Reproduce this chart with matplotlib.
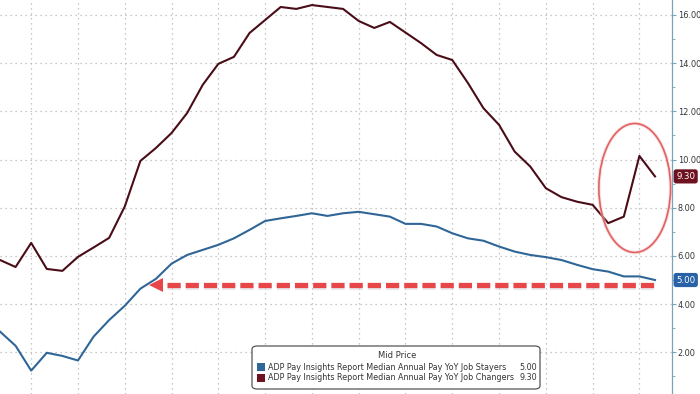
import numpy as np
import pandas as pd
import matplotlib
matplotlib.use("Agg")
import matplotlib.pyplot as plt
from matplotlib.patches import Ellipse, FancyBboxPatch, Rectangle

# -----------------------------
# Data, monthly Oct 2020 - Apr 2024
# -----------------------------
months = pd.date_range("2020-10-01", periods=43, freq="MS")

job_stayers = [
    2.86, 2.27, 1.24, 1.98, 1.85, 1.66, 2.65, 3.34, 3.93, 4.64,
    5.05, 5.68, 6.04, 6.25, 6.46, 6.73, 7.08, 7.45, 7.56, 7.66,
    7.77, 7.66, 7.77, 7.83, 7.73, 7.63, 7.33, 7.33, 7.22, 6.94,
    6.73, 6.63, 6.39, 6.18, 6.04, 5.95, 5.83, 5.63, 5.45, 5.35,
    5.15, 5.15, 5.00,
]

job_changers = [
    5.83, 5.54, 6.54, 5.46, 5.38, 5.96, 6.35, 6.75, 8.05, 9.94,
    10.48, 11.10, 11.93, 13.10, 13.97, 14.26, 15.25, 15.79, 16.33, 16.25,
    16.41, 16.33, 16.25, 15.75, 15.46, 15.71, 15.27, 14.83, 14.34, 14.13,
    13.18, 12.13, 11.44, 10.33, 9.71, 8.81, 8.44, 8.25, 8.12, 7.36,
    7.63, 10.15, 9.30,
]

series_names = [
    "ADP Pay Insights Report Median Annual Pay YoY Job Stayers",
    "ADP Pay Insights Report Median Annual Pay YoY Job Changers",
]

# -----------------------------
# Styling
# -----------------------------
BLUE = "#2f6697"
MAROON = "#4a0d18"
TAG_BLUE = "#2a62a8"
TAG_MAROON = "#6e1220"
RED = "#e8474a"
GRID = "#b5b5b5"
SPINE = "#7aa3bb"
TXT = "#333333"

plt.rcParams["font.family"] = ["DejaVu Sans"]

x = np.arange(len(months))

fig = plt.figure(figsize=(7, 3.94), dpi=100)
ax = fig.add_axes([0, 0, 672 / 700, 1])

ax.plot(x, job_stayers, color=BLUE, lw=1.5, zorder=3)
ax.plot(x, job_changers, color=MAROON, lw=1.5, zorder=3)

ax.set_xlim(0, 43.09)
ax.set_ylim(0.27, 16.62)

# quarterly vertical grid, no labels
ax.set_xticks(x[2::3])
ax.set_xticklabels([])
ax.tick_params(axis="x", length=0)

ax.yaxis.tick_right()
ax.set_yticks(np.arange(2, 17, 2))
ax.set_yticks(np.arange(1, 17, 2), minor=True)
ax.set_yticklabels([f"{v:.2f}" for v in np.arange(2, 17, 2)])
ax.tick_params(axis="y", which="major", length=3, color=SPINE,
               labelsize=5.9, labelcolor=TXT, pad=1)
ax.tick_params(axis="y", which="minor", length=2, color=SPINE)

ax.grid(True, which="major", color=GRID, lw=0.9, linestyle=(0, (1, 3)))

for side in ["top", "left", "bottom"]:
    ax.spines[side].set_visible(False)
ax.spines["right"].set_color(SPINE)
ax.spines["right"].set_linewidth(0.9)

# -----------------------------
# Last value tags on the axis
# -----------------------------
for val, col in [(job_stayers[-1], TAG_BLUE), (job_changers[-1], TAG_MAROON)]:
    ax.annotate(f"{val:.2f}", xy=(1, val), xycoords=("axes fraction", "data"),
                xytext=(3, 0), textcoords="offset points",
                ha="left", va="center", fontsize=6.2, color="white",
                bbox=dict(boxstyle="round,pad=0.3,rounding_size=0.3",
                          fc=col, ec="none"),
                annotation_clip=False, zorder=6)

# -----------------------------
# Highlights: ellipse and dashed arrow
# -----------------------------
ell_glow = Ellipse((40.7, 8.82), 4.6, 5.35, fill=False, ec="#f5c4c4",
                   lw=2.6, alpha=0.5, zorder=4)
ell = Ellipse((40.7, 8.82), 4.6, 5.35, fill=False, ec="#e06262",
              lw=1.2, zorder=5)
ax.add_patch(ell_glow)
ax.add_patch(ell)

arrow_y = 4.80
ax.plot([10.7, 42.0], [arrow_y - 0.08, arrow_y - 0.08], color="#d8d8d8",
        lw=3.8, dashes=(2.5, 0.95), alpha=0.5, zorder=4)
ax.plot([10.7, 42.0], [arrow_y, arrow_y], color=RED, lw=3.8,
        dashes=(2.5, 0.95), zorder=5, dash_capstyle="butt")
ax.plot([10.0], [arrow_y], marker="<", markersize=10, color=RED,
        markeredgewidth=0, zorder=5)

# -----------------------------
# Legend box (drawn by hand)
# -----------------------------
W, H = 700, 394


def fx(px):
    return px / W


def fy(py):
    return 1 - py / H


box = FancyBboxPatch((fx(252), fy(389)), fx(540) - fx(252), fy(346) - fy(389),
                     boxstyle="round,pad=0,rounding_size=0.008",
                     transform=fig.transFigure, fc="white", ec="#555555",
                     lw=0.9, zorder=10)
fig.patches.append(box)

fig.text(fx(397), fy(356), "Mid Price", ha="center", va="center",
         fontsize=6.0, color=TXT, zorder=11)

rows = [(367, BLUE, series_names[0], job_stayers[-1]),
        (378, TAG_MAROON, series_names[1], job_changers[-1])]
for py, col, name, val in rows:
    fig.patches.append(Rectangle((fx(257), fy(py + 4)), fx(8), 8 / H,
                                 transform=fig.transFigure, fc=col,
                                 ec="none", zorder=11))
    fig.text(fx(268), fy(py), name, ha="left", va="center", fontsize=5.75,
             color=TXT, zorder=11)
    fig.text(fx(537), fy(py), f"{val:.2f}", ha="right", va="center",
             fontsize=5.75, color=TXT, zorder=11)

fig.savefig("out.png", dpi=100)
